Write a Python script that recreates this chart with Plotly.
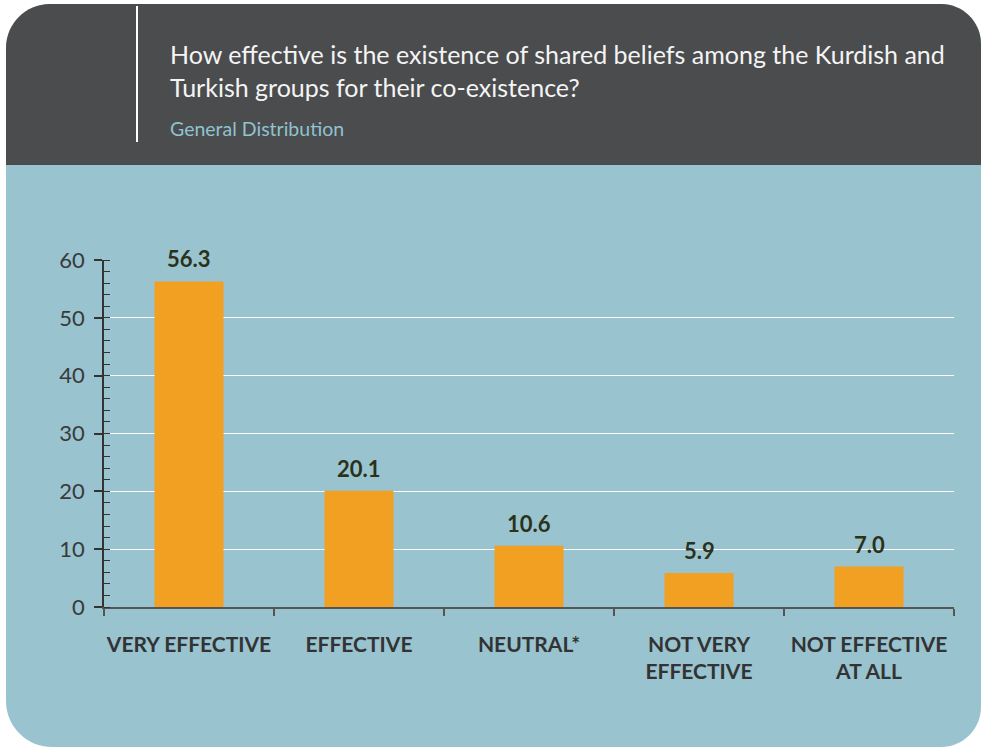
import plotly.graph_objects as go

categories = ["VERY EFFECTIVE", "EFFECTIVE", "NEUTRAL*", "NOT VERY<br>EFFECTIVE", "NOT EFFECTIVE<br>AT ALL"]
values = [56.3, 20.1, 10.6, 5.9, 7.0]
y_ticks = [0, 10, 20, 30, 40, 50, 60]

title_text = "How effective is the existence of shared beliefs among the Kurdish and<br>Turkish groups for their co-existence?"
subtitle_text = "General Distribution"

W, H = 983, 748
L, R, T, B = 104, 954, 260, 607  # plot area in pixels


def px(x):
    return (x - L) / (R - L)


def py(y):
    return (B - y) / (B - T)


def rounded_path(x0, y0, x1, y1, rtl, rtr, rbr, rbl):
    k = 0.4477
    pts = []
    pts.append(f"M{px(x0 + rtl)},{py(y0)}")
    pts.append(f"L{px(x1 - rtr)},{py(y0)}")
    if rtr:
        pts.append(f"C{px(x1 - rtr * k)},{py(y0)} {px(x1)},{py(y0 + rtr * k)} {px(x1)},{py(y0 + rtr)}")
    pts.append(f"L{px(x1)},{py(y1 - rbr)}")
    if rbr:
        pts.append(f"C{px(x1)},{py(y1 - rbr * k)} {px(x1 - rbr * k)},{py(y1)} {px(x1 - rbr)},{py(y1)}")
    pts.append(f"L{px(x0 + rbl)},{py(y1)}")
    if rbl:
        pts.append(f"C{px(x0 + rbl * k)},{py(y1)} {px(x0)},{py(y1 - rbl * k)} {px(x0)},{py(y1 - rbl)}")
    pts.append(f"L{px(x0)},{py(y0 + rtl)}")
    if rtl:
        pts.append(f"C{px(x0)},{py(y0 + rtl * k)} {px(x0 + rtl * k)},{py(y0)} {px(x0 + rtl)},{py(y0)}")
    pts.append("Z")
    return " ".join(pts)


fig = go.Figure()
fig.add_trace(go.Bar(
    x=categories, y=values,
    marker=dict(color="#f1a022", line=dict(width=0)),
    hoverinfo="skip",
))

for c, v in zip(categories, values):
    fig.add_annotation(
        x=c, y=v, text=f"<b>{v:.1f}</b>", showarrow=False,
        yanchor="bottom", yshift=7,
        font=dict(family="Lato", size=22, color="#2c3119"),
    )

shapes = [
    dict(type="path", xref="paper", yref="paper", layer="below",
         path=rounded_path(6, 4, 981, 747, 44, 40, 40, 46),
         fillcolor="#98c3cf", line=dict(width=0)),
    dict(type="path", xref="paper", yref="paper", layer="below",
         path=rounded_path(6, 4, 981, 165, 44, 40, 0, 0),
         fillcolor="#4b4c4e", line=dict(width=0)),
    dict(type="line", xref="paper", yref="paper", layer="above",
         x0=px(137), x1=px(137), y0=py(6), y1=py(142),
         line=dict(color="#ffffff", width=2)),
]

fig.add_annotation(
    xref="paper", yref="paper", x=px(168), y=py(37), xanchor="left", yanchor="top",
    text=title_text, showarrow=False, align="left",
    font=dict(family="Lato", size=25, color="#f4f4f4"),
)
fig.add_annotation(
    xref="paper", yref="paper", x=px(168), y=py(115), xanchor="left", yanchor="top",
    text=subtitle_text, showarrow=False, align="left",
    font=dict(family="Lato", size=19.5, color="#8fc3cf"),
)

fig.update_layout(
    width=W, height=H,
    margin=dict(l=L, r=W - R, t=T, b=H - B, autoexpand=False),
    paper_bgcolor="#ffffff",
    plot_bgcolor="rgba(0,0,0,0)",
    shapes=shapes,
    showlegend=False,
    bargap=0.594,
    xaxis=dict(
        type="category",
        tickson="boundaries",
        tickangle=0,
        automargin=False,
        ticks="outside", ticklen=7, tickcolor="#555555", tickwidth=1.5,
        showline=True, linecolor="#555555", linewidth=1.5,
        showgrid=False,
        ticklabelstandoff=18,
        tickfont=dict(family="Lato", size=21, color="#333333", weight="bold"),
    ),
    yaxis=dict(
        range=[0, 60],
        tickvals=y_ticks,
        automargin=False,
        ticks="outside", ticklen=8, tickcolor="#333333", tickwidth=1.5,
        showline=True, linecolor="#333333", linewidth=1.5,
        showgrid=True, gridcolor="#ffffff", gridwidth=1.2,
        zeroline=False,
        ticklabelstandoff=5,
        tickfont=dict(family="Lato", size=22, color="#3a3a3a"),
        minor=dict(dtick=2, ticks="inside", ticklen=6, tickcolor="#333333", tickwidth=1.2, showgrid=False),
    ),
)

fig.write_html(
    "out.html",
    config={"displayModeBar": False},
    post_script="document.body.style.margin='0';document.body.style.overflow='hidden';",
)
